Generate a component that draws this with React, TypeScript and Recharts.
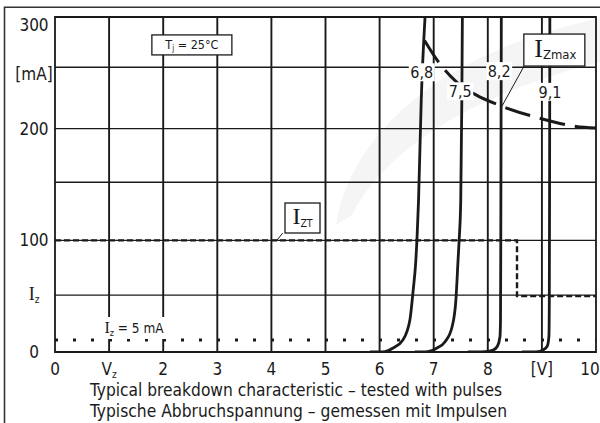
import React from 'react';
import { ComposedChart, Line, XAxis, YAxis, ReferenceLine, ReferenceArea, ReferenceDot } from 'recharts';

const FONT = '"DejaVu Sans Condensed", "DejaVu Sans", Verdana, sans-serif';
const SERIF = '"Liberation Serif", "DejaVu Serif", serif';
const INK = '#1a1a1a';

// axes
const xTicks = [0, 1, 2, 3, 4, 5, 6, 7, 8, 9, 10];
const xTickLabels = ['0', 'Vz', '2', '3', '4', '5', '6', '7', '8', '[V]', '10'];
const yTicks = [0, 51, 100, 200, 249, 293];
const yTickLabels = ['0', 'Iz', '100', '200', '[mA]', '300'];
const gridX = [1, 2, 3, 4, 5, 6, 7, 8, 9];
const gridY = [51, 100, 152, 200, 255];

// breakdown curves, V vs mA
const v68 = [5.82, 6.1, 6.25, 6.43, 6.56, 6.62, 6.67, 6.69, 6.72, 6.77, 6.84];
const i68 = [0, 0.4, 3.6, 10.7, 28.6, 55, 82, 100, 136, 226, 300];
const v75 = [6.65, 6.89, 7.06, 7.21, 7.34, 7.41, 7.45, 7.47, 7.5, 7.52, 7.53];
const i75 = [0, 0.4, 3.6, 9.2, 22.6, 46.5, 82, 100, 136, 226, 300];
const v82 = [7.63, 7.95, 8.1, 8.18, 8.225, 8.235, 8.24, 8.245, 8.25];
const i82 = [0, 0.4, 1.8, 5.4, 13.7, 28.6, 100, 200, 300];
const v91 = [8.63, 8.93, 9.02, 9.1, 9.13, 9.137, 9.142, 9.147];
const i91 = [0, 0.4, 1.8, 5.4, 14.3, 46, 150, 300];

// limits
const izmaxV = [6.83, 7.1, 7.42, 7.79, 8.21, 8.91, 9.63, 10];
const izmaxI = [279, 259, 242, 230, 221, 210, 202, 200.5];
const iztV = [0, 8.54, 8.54, 10];
const iztI = [100, 100, 50, 50];
const testV = [0, 10];
const testI = [10.7, 10.7];

// labels
const curveNames = ['6,8', '7,5', '8,2', '9,1'];
const curveLabelV = [6.78, 7.49, 8.21, 9.15];
const curveLabelI = [250.5, 233.5, 251.5, 233];

const zip = (v: number[], i: number[]) => v.map((x, k) => ({ v: x, i: i[k] }));

const XTick = (p: any) => {
  const label = xTickLabels[xTicks.indexOf(p.payload.value)];
  const y = p.y + 23;
  const common = { textAnchor: 'middle' as const, fontSize: 17, fontFamily: FONT, fill: INK };
  if (label === 'Vz')
    return (
      <text x={p.x} y={y} {...common}>
        V<tspan fontSize={10} dy={3}>z</tspan>
      </text>
    );
  return (
    <text x={p.x + (label === '10' ? -6 : 0)} y={y} {...common}>
      {label}
    </text>
  );
};

const YTick = (p: any) => {
  const label = yTickLabels[yTicks.indexOf(p.payload.value)];
  const x = p.x - 21;
  const common = { textAnchor: 'middle' as const, fontSize: 17, fontFamily: FONT, fill: INK };
  if (label === 'Iz')
    return (
      <text x={x} y={p.y + 5} {...common}>
        <tspan fontFamily={SERIF} fontSize={18}>I</tspan>
        <tspan fontSize={10} dy={3}>z</tspan>
      </text>
    );
  return (
    <text x={x} y={p.y + 6} {...common}>
      {label}
    </text>
  );
};

const curveLabel = (text: string) => (p: any) => (
  <g>
    <rect x={p.cx - 13} y={p.cy - 9} width={26} height={18} fill="#fff" />
    <text x={p.cx} y={p.cy + 6} textAnchor="middle" fontSize={16} fontFamily={FONT} fill={INK}>
      {text}
    </text>
  </g>
);

const TjBox = (p: any) => (
  <g>
    <rect x={p.cx - 40} y={p.cy - 10} width={80} height={20} fill="#fff" stroke={INK} strokeWidth={1.3} />
    <text x={p.cx} y={p.cy + 4.5} textAnchor="middle" fontSize={12.5} fontFamily={FONT} fill={INK}>
      T<tspan fontSize={8} dy={2}>j</tspan>
      <tspan dy={-2}> = 25°C</tspan>
    </text>
  </g>
);

const IzmaxBox = (p: any) => (
  <g>
    <rect x={p.cx - 30.5} y={p.cy - 16} width={61} height={32} fill="#fff" stroke={INK} strokeWidth={1.3} />
    <text x={p.cx + 1} y={p.cy + 7} textAnchor="middle" fill={INK}>
      <tspan fontFamily={SERIF} fontSize={26}>I</tspan>
      <tspan fontFamily={FONT} fontSize={13} dy={2}>Zmax</tspan>
    </text>
  </g>
);

const IztBox = (p: any) => (
  <g>
    <rect x={p.cx - 17.5} y={p.cy - 15} width={35} height={30} fill="#fff" stroke={INK} strokeWidth={1.3} />
    <text x={p.cx} y={p.cy + 6} textAnchor="middle" fill={INK}>
      <tspan fontFamily={SERIF} fontSize={24}>I</tspan>
      <tspan fontFamily={FONT} fontSize={10.5} dy={3}>ZT</tspan>
    </text>
  </g>
);

const TestLabel = (p: any) => (
  <g>
    <rect x={p.cx - 34} y={p.cy - 11} width={68} height={22} fill="#fff" />
    <text x={p.cx} y={p.cy + 5} textAnchor="middle" fill={INK} fontFamily={FONT} fontSize={13.5}>
      <tspan fontFamily={SERIF} fontSize={16}>I</tspan>
      <tspan fontSize={9} dy={3}>z</tspan>
      <tspan dy={-3}> = 5 mA</tspan>
    </text>
  </g>
);

export default function App() {
  const curves = [zip(v68, i68), zip(v75, i75), zip(v82, i82), zip(v91, i91)];
  return (
    <div style={{ position: 'absolute', left: 0, top: 0, width: 600, height: 423, background: '#fff', overflow: 'hidden' }}>
      <svg width={600} height={423} style={{ position: 'absolute', left: 0, top: 0 }}>
        <path d="M 336 225 C 350 140, 430 55, 600 18 L 600 62 C 470 95, 385 150, 352 215 Z" fill="#f5f5f5" />
      </svg>
      <ComposedChart
        width={600}
        height={423}
        margin={{ top: 17, right: 4, bottom: 46, left: 5 }}
        style={{ position: 'absolute', left: 0, top: 0 }}
      >
        <XAxis
          type="number"
          dataKey="v"
          domain={[0, 10]}
          ticks={xTicks}
          tick={<XTick />}
          axisLine={false}
          tickLine={false}
          tickSize={0}
          tickMargin={0}
          height={25}
          allowDataOverflow
          interval={0}
        />
        <YAxis
          type="number"
          dataKey="i"
          domain={[0, 300]}
          ticks={yTicks}
          tick={<YTick />}
          axisLine={false}
          tickLine={false}
          tickSize={0}
          tickMargin={0}
          width={50}
          allowDataOverflow
          interval={0}
        />
        {gridX.map((v) => (
          <ReferenceLine key={'gx' + v} x={v} stroke={INK} strokeWidth={1.9} zIndex={-100} />
        ))}
        {gridY.map((v) => (
          <ReferenceLine key={'gy' + v} y={v} stroke={INK} strokeWidth={1.3} zIndex={-100} />
        ))}
        <ReferenceArea x1={0} x2={10} y1={0} y2={300} fill="none" stroke={INK} strokeWidth={1.8} zIndex={-90} />
        <Line data={zip(testV, testI)} dataKey="i" stroke={INK} strokeWidth={3} strokeDasharray="3 15" dot={false} isAnimationActive={false} type="linear" />
        <Line data={zip(iztV, iztI)} dataKey="i" stroke={INK} strokeWidth={2.4} strokeDasharray="6 3" dot={false} isAnimationActive={false} type="linear" />
        <Line data={zip(izmaxV, izmaxI)} dataKey="i" stroke={INK} strokeWidth={3} strokeDasharray="26 10" dot={false} isAnimationActive={false} type="monotone" />
        {curves.map((d, k) => (
          <Line key={'c' + k} data={d} dataKey="i" stroke={INK} strokeWidth={2.8} dot={false} isAnimationActive={false} type="monotone" />
        ))}
        <ReferenceLine segment={[{ x: 8.67, y: 256 }, { x: 8.26, y: 220 }]} stroke={INK} strokeWidth={1} zIndex={2000} />
        <ReferenceLine segment={[{ x: 4.21, y: 106.5 }, { x: 4.1, y: 100 }]} stroke={INK} strokeWidth={1} zIndex={2000} />
        {curveNames.map((n, k) => (
          <ReferenceDot key={'n' + k} x={curveLabelV[k]} y={curveLabelI[k]} r={1} shape={curveLabel(n)} zIndex={2000} />
        ))}
        <ReferenceDot x={2.53} y={275} r={1} shape={TjBox} zIndex={2000} />
        <ReferenceDot x={9.23} y={270.4} r={1} shape={IzmaxBox} zIndex={2000} />
        <ReferenceDot x={4.575} y={120} r={1} shape={IztBox} zIndex={2000} />
        <ReferenceDot x={1.46} y={21.5} r={1} shape={TestLabel} zIndex={2000} />
      </ComposedChart>
      <svg width={600} height={423} style={{ position: 'absolute', left: 0, top: 0, pointerEvents: 'none' }}>
        <path d="M 4.5 423 L 4.5 7.3 L 600 7.3" fill="none" stroke="#333" strokeWidth={1.6} />
        <text x={296} y={396} textAnchor="middle" fontSize={17} fontFamily={FONT} fill={INK} textLength={412} lengthAdjust="spacingAndGlyphs">
          Typical breakdown characteristic – tested with pulses
        </text>
        <text x={298.5} y={416.5} textAnchor="middle" fontSize={17} fontFamily={FONT} fill={INK} textLength={417} lengthAdjust="spacingAndGlyphs">
          Typische Abbruchspannung – gemessen mit Impulsen
        </text>
      </svg>
    </div>
  );
}
